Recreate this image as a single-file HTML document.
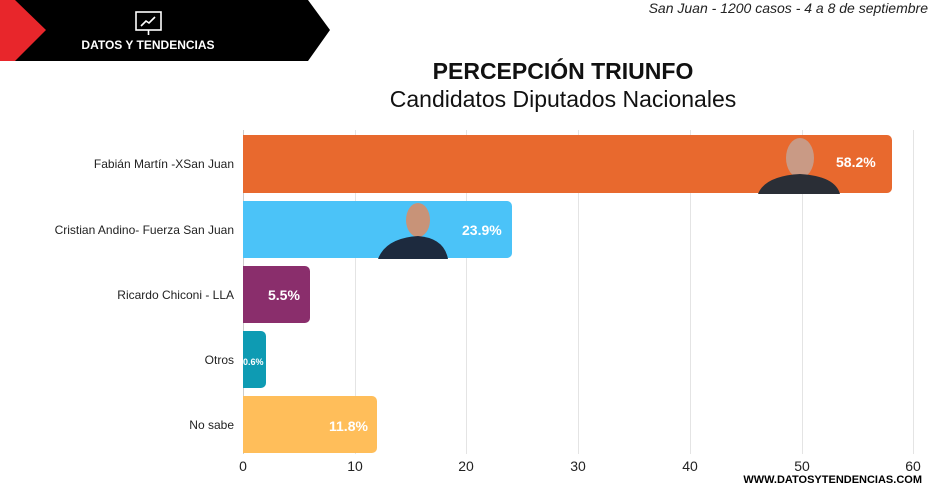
<!DOCTYPE html>
<html><head><meta charset="utf-8"><style>
body{margin:0;width:948px;height:491px;background:#fff;font-family:"Liberation Sans",sans-serif;position:relative;overflow:hidden}
.a{position:absolute}
.lab{position:absolute;right:714px;font-size:12px;color:#222;text-align:right;white-space:nowrap}
.bar{position:absolute;left:243px;border-radius:0 5px 5px 0}
.v{position:absolute;color:#fff;font-weight:bold;font-size:14px}
.grid{position:absolute;top:130px;height:324px;width:1px;background:#e4e4e4}
.tick{position:absolute;top:458px;font-size:14px;color:#222;width:40px;text-align:center}
</style></head><body>
<svg class="a" style="left:0;top:0" width="340" height="62">
<polygon points="0,0 308,0 330,30 308,61 0,61" fill="#000"/>
<polygon points="0,0 15,0 46,30 15,61 0,61" fill="#e8262b"/>
<rect x="136" y="12" width="25" height="18" fill="none" stroke="#fff" stroke-width="1.6"/>
<line x1="148.5" y1="30" x2="148.5" y2="35" stroke="#fff" stroke-width="1.6"/>
<polyline points="141,26 146,21 149,23 155,17" fill="none" stroke="#fff" stroke-width="1.6"/>
<text x="148" y="49" fill="#fff" font-size="12" font-weight="bold" text-anchor="middle" font-family="Liberation Sans">DATOS Y TENDENCIAS</text>
</svg>
<div class="a" style="right:20px;top:0px;font-size:14px;font-style:italic;color:#222">San Juan - 1200 casos - 4 a 8 de septiembre</div>
<div class="a" style="left:0;width:1126px;top:58px;text-align:center;font-size:23px;font-weight:bold;color:#111">PERCEPCIÓN TRIUNFO</div>
<div class="a" style="left:0;width:1126px;top:86px;text-align:center;font-size:23px;color:#111">Candidatos Diputados Nacionales</div>
<div class="grid" style="left:243px;background:#ccc"></div>
<div class="grid" style="left:355px"></div><div class="grid" style="left:466px"></div><div class="grid" style="left:578px"></div><div class="grid" style="left:690px"></div><div class="grid" style="left:802px"></div><div class="grid" style="left:913px"></div>
<div class="bar" style="top:135px;height:58px;width:649px;background:#e8692e"></div>
<div class="bar" style="top:201px;height:57px;width:269px;background:#4bc3f8"></div>
<div class="bar" style="top:266px;height:57px;width:67px;background:#8a2e6c"></div>
<div class="bar" style="top:331px;height:57px;width:23px;background:#0e9bb3"></div>
<div class="bar" style="top:396px;height:57px;width:134px;background:#ffbe5a"></div>
<svg class="a" style="left:750px;top:128px" width="90" height="66"><ellipse cx="50" cy="30" rx="14" ry="20" fill="#c99a85"/><path d="M8,66 Q15,48 50,46 Q85,48 90,66Z" fill="#2a2e36"/></svg>
<svg class="a" style="left:378px;top:196px" width="70" height="63"><ellipse cx="40" cy="24" rx="12" ry="17" fill="#c89378"/><path d="M0,63 Q8,42 40,40 Q66,42 70,63Z" fill="#1d2a3e"/></svg>
<div class="v" style="left:836px;top:154px">58.2%</div>
<div class="v" style="left:462px;top:222px">23.9%</div>
<div class="v" style="left:268px;top:287px">5.5%</div>
<div class="v" style="left:243px;top:357px;font-size:9px">0.6%</div>
<div class="v" style="left:329px;top:418px">11.8%</div>
<div class="lab" style="top:157px">Fabián Martín -XSan Juan</div>
<div class="lab" style="top:223px">Cristian Andino- Fuerza San Juan</div>
<div class="lab" style="top:288px">Ricardo Chiconi - LLA</div>
<div class="lab" style="top:353px">Otros</div>
<div class="lab" style="top:418px">No sabe</div>
<div class="tick" style="left:223px">0</div><div class="tick" style="left:335px">10</div><div class="tick" style="left:446px">20</div><div class="tick" style="left:558px">30</div><div class="tick" style="left:670px">40</div><div class="tick" style="left:782px">50</div><div class="tick" style="left:893px">60</div>
<div class="a" style="right:26px;top:474px;font-size:11px;font-weight:bold;color:#000">WWW.DATOSYTENDENCIAS.COM</div>
</body></html>
